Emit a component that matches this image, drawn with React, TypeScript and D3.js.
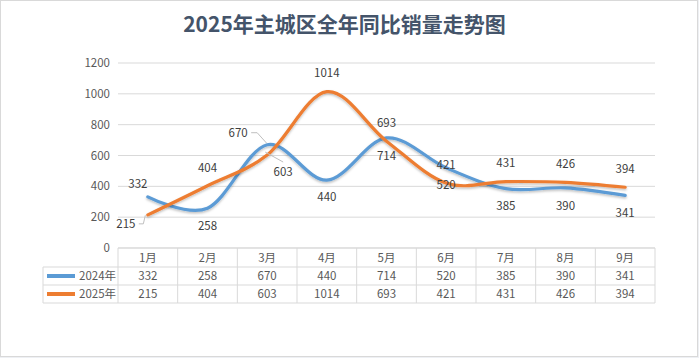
import React from "react";
import * as d3 from "d3";

const TITLE = "2025年主城区全年同比销量走势图";
const months = ["1月", "2月", "3月", "4月", "5月", "6月", "7月", "8月", "9月"];
const yTicks = [0, 200, 400, 600, 800, 1000, 1200];
const seriesNames = ["2024年", "2025年"];
const values2024 = [332, 258, 670, 440, 714, 520, 385, 390, 341];
const values2025 = [215, 404, 603, 1014, 693, 421, 431, 426, 394];
// label offsets in px relative to each point (positions/styles kept apart from data)
const labelOff2024: [number, number][] = [
  [-10, -13], [0, 17.5], [-29, -12], [0, 17], [0, 18], [0, 17], [0, 17], [0, 18], [0, 17.5],
];
const labelOff2025: [number, number][] = [
  [-22, 9], [0, -17.5], [16, 17], [0, -18.5], [0, -18], [0, -18], [0, -18.5], [0, -18], [0, -18],
];
const colors = ["#5B9BD5", "#ED7D31"];

const W = 699;
const H = 358;
const plotL = 118;
const plotR = 655;
const plotT = 63;
const plotB = 248;
const rowH = [19, 18, 18];
const legendL = 43;
const FONT = "'Noto Sans CJK SC', 'Noto Sans', sans-serif";
const TXT = "#595959";
const GRID = "#d9d9d9";

export default function App() {
  const x = d3.scaleBand<string>().domain(months).range([plotL, plotR]).padding(0);
  const cx = (m: string) => (x(m) as number) + x.bandwidth() / 2;
  const y = d3.scaleLinear().domain([0, 1200]).range([plotB, plotT]);
  const line = d3
    .line<number>()
    .x((_, i) => cx(months[i]))
    .y((d) => y(d))
    .curve(d3.curveCatmullRom.alpha(0));

  const series = [values2024, values2025];
  const offs = [labelOff2024, labelOff2025];

  const rowY = [plotB, plotB + rowH[0], plotB + rowH[0] + rowH[1], plotB + rowH[0] + rowH[1] + rowH[2]];
  const fs = 11.5;

  // leader lines
  const leaders: string[] = [];
  {
    // 2024 3月 (670)
    const i = 2;
    const px = cx(months[i]);
    const py = y(values2024[i]);
    const lx = px + labelOff2024[i][0];
    const ly = py + labelOff2024[i][1];
    leaders.push(`M${lx + 13},${ly}L${lx + 19},${ly}L${px - 0.5},${py - 1.5}`);
  }
  {
    // 2025 1月 (215)
    const i = 0;
    const px = cx(months[i]);
    const py = y(values2025[i]);
    const lx = px + labelOff2025[i][0];
    const ly = py + labelOff2025[i][1];
    leaders.push(`M${lx + 13},${ly}L${lx + 17.5},${ly}L${px - 2.5},${py + 0.5}`);
  }
  {
    // 2025 3月 (603)
    const i = 2;
    const px = cx(months[i]);
    const py = y(values2025[i]);
    const lx = px + labelOff2025[i][0];
    const ly = py + labelOff2025[i][1];
    leaders.push(`M${px - 2},${py - 3}L${lx},${ly - 10}`);
  }

  return (
    <svg width={W} height={H} style={{ position: "absolute", left: 0, top: 0, display: "block" }} fontFamily={FONT}>
      <defs>
        <filter id="sh" x="-5%" y="-20%" width="110%" height="140%">
          <feDropShadow dx="0" dy="1.5" stdDeviation="1.2" floodColor="#000" floodOpacity="0.25" />
        </filter>
      </defs>
      <rect x={0} y={0} width={W} height={H} fill="#eef0f4" />
      <rect x={0.5} y={0.5} width={697} height={356} fill="#fff" stroke={GRID} />
      <text x={344.5} y={32} textAnchor="middle" fontSize={21} fontWeight="bold" fill="#44546A">
        {TITLE}
      </text>

      {/* gridlines */}
      {yTicks.map((t) => (
        <g key={t}>
          <line x1={plotL} x2={plotR} y1={y(t)} y2={y(t)} stroke={GRID} strokeWidth={1} />
          <text x={110} y={y(t)} dy="0.35em" textAnchor="end" fontSize={fs} fill={TXT}>
            {t}
          </text>
        </g>
      ))}

      {/* data table */}
      <g stroke={GRID} strokeWidth={1} fill="none">
        <line x1={plotL} x2={plotR} y1={rowY[0]} y2={rowY[0]} />
        {[1, 2, 3].map((r) => (
          <line key={r} x1={legendL} x2={plotR} y1={rowY[r]} y2={rowY[r]} />
        ))}
        <line x1={legendL} x2={legendL} y1={rowY[1]} y2={rowY[3]} />
        {months.map((m) => (
          <line key={m} x1={x(m) as number} x2={x(m) as number} y1={rowY[0]} y2={rowY[3]} />
        ))}
        <line x1={plotR} x2={plotR} y1={rowY[0]} y2={rowY[3]} />
      </g>
      {months.map((m, i) => (
        <g key={m} fontSize={fs} fill={TXT} textAnchor="middle">
          <text x={cx(m)} y={(rowY[0] + rowY[1]) / 2} dy="0.35em">
            {m}
          </text>
          <text x={cx(m)} y={(rowY[1] + rowY[2]) / 2} dy="0.35em">
            {values2024[i]}
          </text>
          <text x={cx(m)} y={(rowY[2] + rowY[3]) / 2} dy="0.35em">
            {values2025[i]}
          </text>
        </g>
      ))}
      {seriesNames.map((s, k) => {
        const ry = (rowY[k + 1] + rowY[k + 2]) / 2;
        return (
          <g key={s}>
            <line x1={47} x2={75} y1={ry} y2={ry} stroke={colors[k]} strokeWidth={4} />
            <text x={79} y={ry} dy="0.35em" fontSize={fs} fill={TXT}>
              {s}
            </text>
          </g>
        );
      })}

      {/* lines */}
      {series.map((vals, k) => (
        <path
          key={k}
          d={line(vals) as string}
          fill="none"
          stroke={colors[k]}
          strokeWidth={3.2}
          strokeLinecap="round"
          filter="url(#sh)"
        />
      ))}

      {/* leader lines */}
      {leaders.map((d, i) => (
        <path key={i} d={d} fill="none" stroke="#bfbfbf" strokeWidth={1} />
      ))}

      {/* data labels */}
      {series.map((vals, k) =>
        vals.map((v, i) => (
          <text
            key={`${k}-${i}`}
            x={cx(months[i]) + offs[k][i][0]}
            y={y(v) + offs[k][i][1]}
            dy="0.35em"
            textAnchor="middle"
            fontSize={fs}
            fill="#404040"
          >
            {v}
          </text>
        ))
      )}
    </svg>
  );
}
